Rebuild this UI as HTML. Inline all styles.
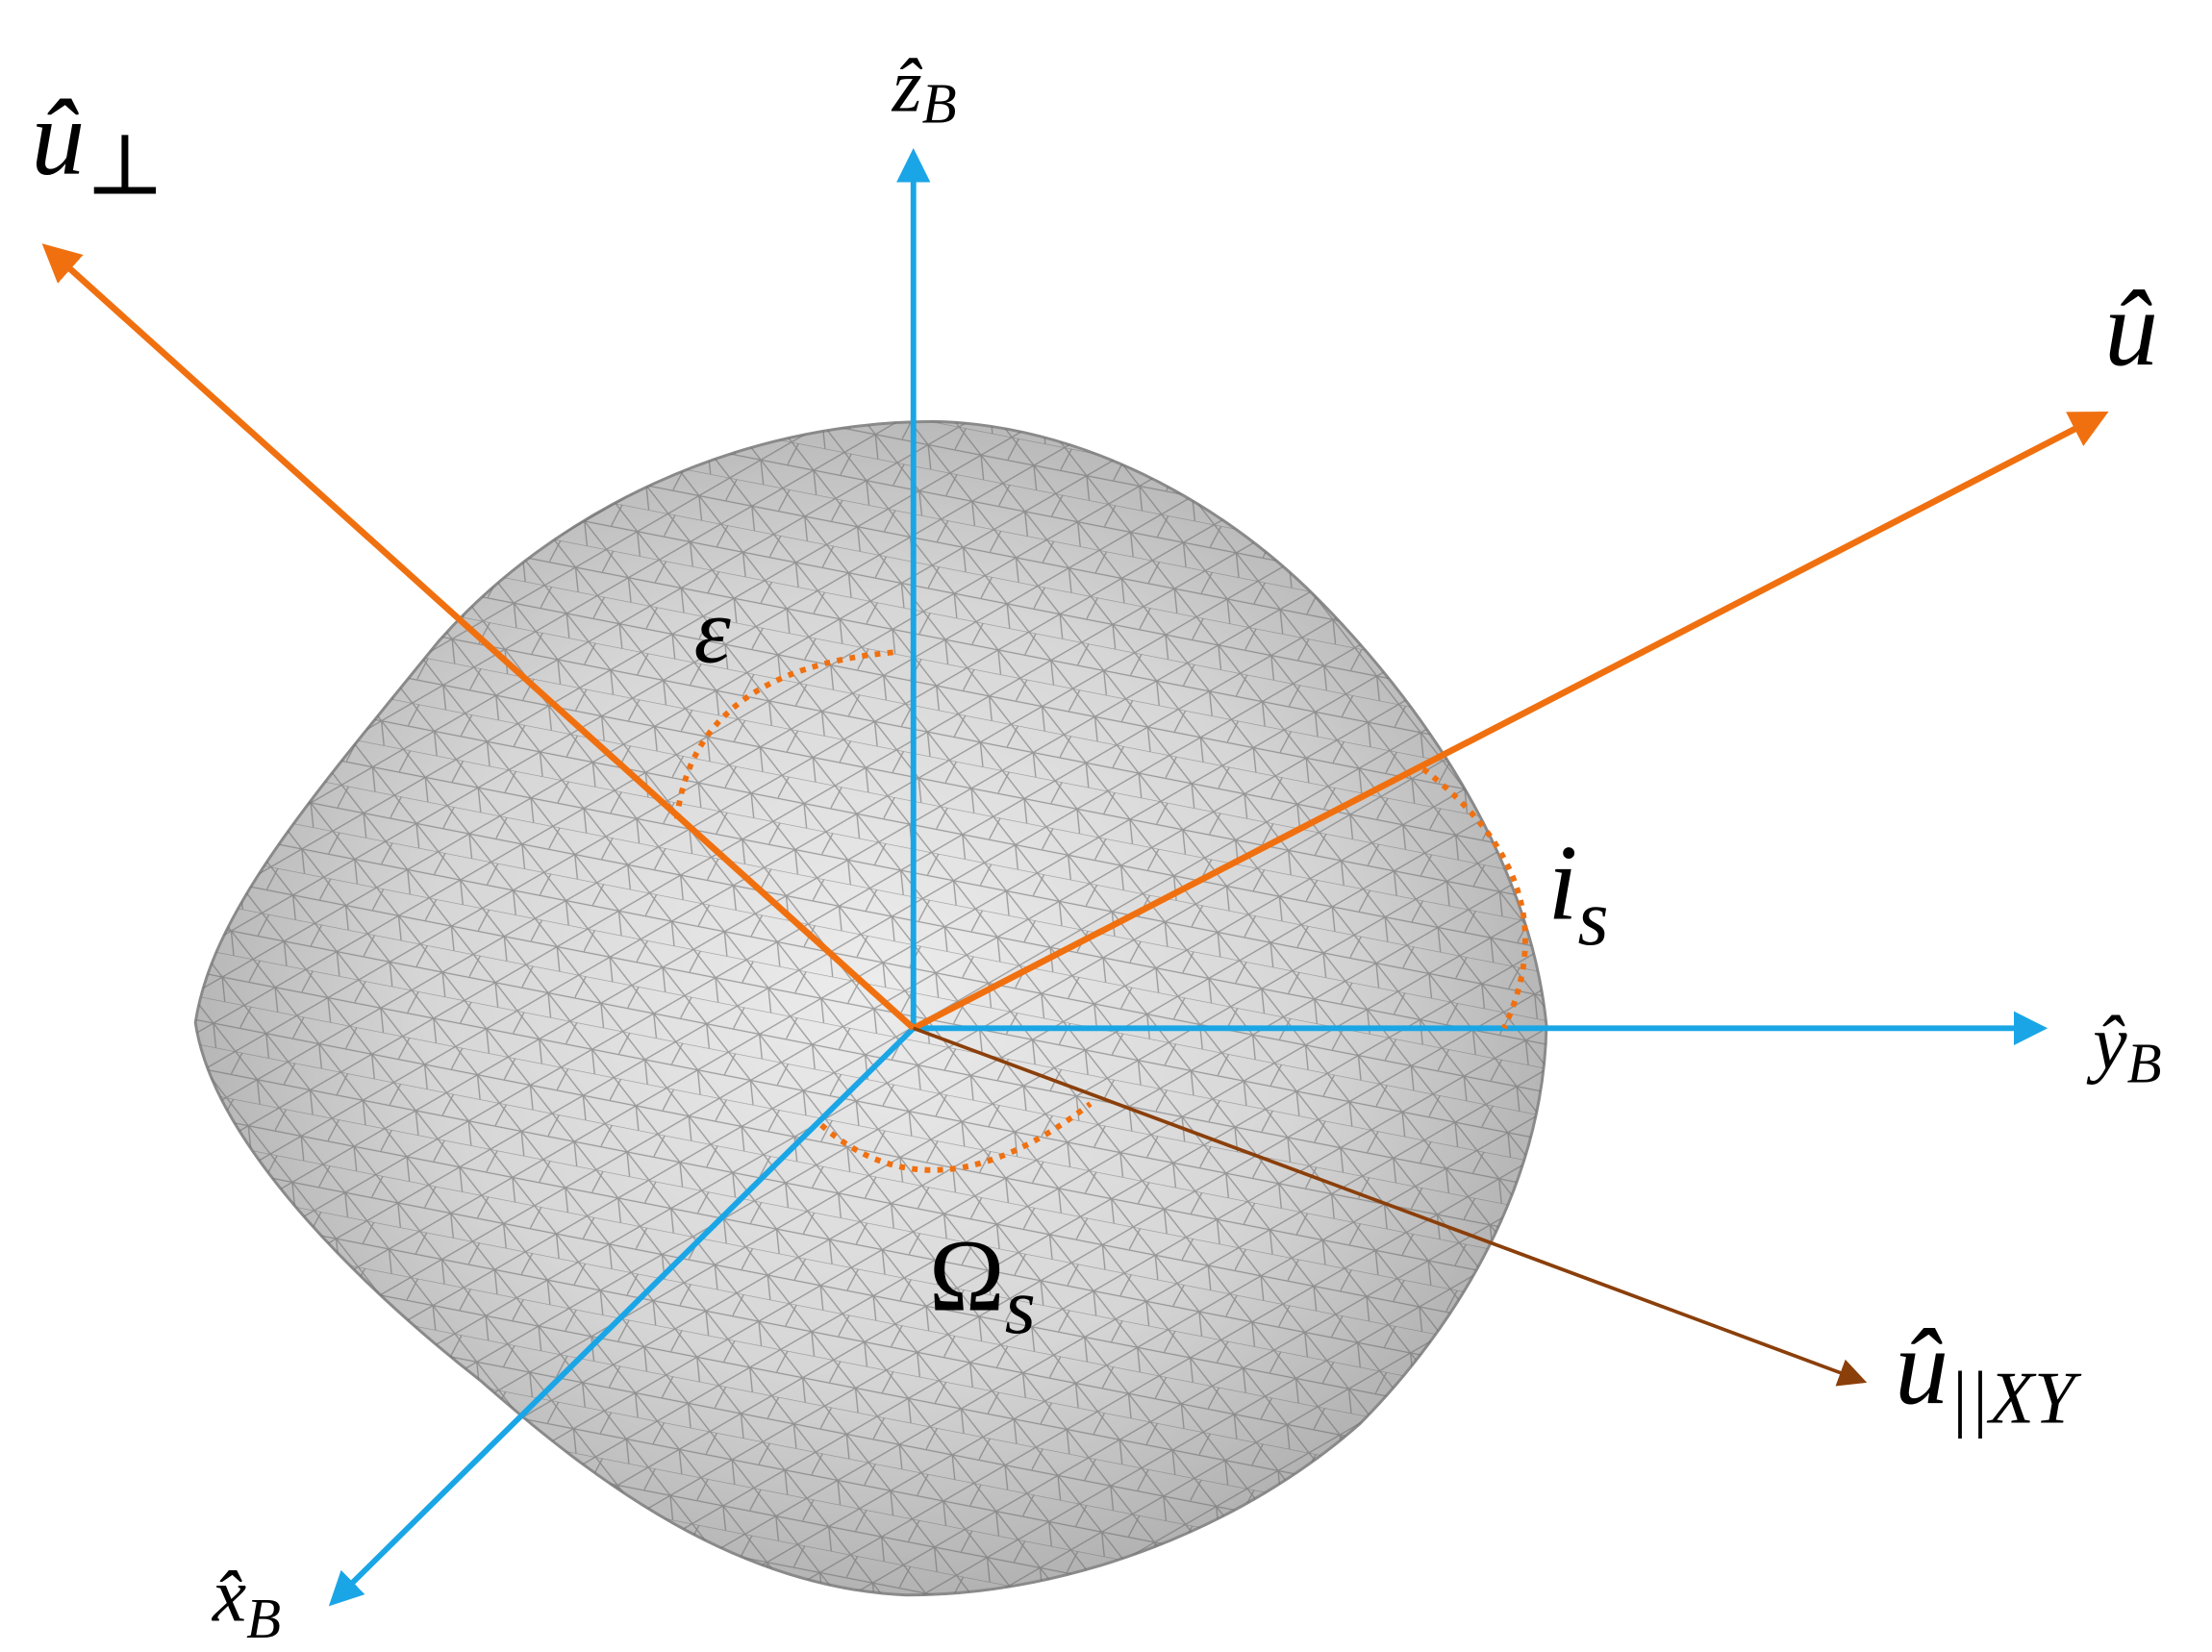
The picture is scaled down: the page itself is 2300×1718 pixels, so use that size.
<!DOCTYPE html>
<html><head><meta charset="utf-8"><style>
html,body{margin:0;padding:0;background:#fff;}
svg{display:block;}
text{font-family:"Liberation Serif","DejaVu Serif",serif;font-style:italic;fill:#000;}
</style></head><body>
<svg width="2300" height="1718" viewBox="0 0 1562 1160" preserveAspectRatio="none" xmlns="http://www.w3.org/2000/svg">
<defs>
<radialGradient id="g" cx="0.5" cy="0.48" r="0.6">
<stop offset="0" stop-color="#ececec"/><stop offset="0.55" stop-color="#d6d6d6"/><stop offset="1" stop-color="#a4a4a4"/>
</radialGradient>
<pattern id="mesh" width="38" height="33" patternUnits="userSpaceOnUse" patternTransform="rotate(11)">
<path d="M0 0L38 0M0 16.5L38 16.5M0 0L19 16.5L38 0M0 33L19 16.5L38 33M19 16.5L24 33M0 16.5L5 0" stroke="#6a6a6a" stroke-width="0.9" fill="none" opacity="0.6"/>
</pattern>
<marker id="ac" markerWidth="6" markerHeight="6" refX="5" refY="3" orient="auto" markerUnits="strokeWidth"><path d="M0,0L6,3L0,6z" fill="#1aa6e6"/></marker>
<marker id="ao" markerWidth="6" markerHeight="6" refX="5" refY="3" orient="auto" markerUnits="strokeWidth"><path d="M0,0L6,3L0,6z" fill="#f07010"/></marker>
<marker id="ab" markerWidth="8" markerHeight="8" refX="7" refY="4" orient="auto" markerUnits="strokeWidth"><path d="M0,0L8,4L0,8z" fill="#8b3f0a"/></marker>
</defs>
<g>
<path d="M138 718 C150 640 220 560 310 450 C390 360 520 296 660 296 C760 298 860 350 930 420 C1000 490 1080 600 1092 720 C1090 830 1030 930 960 1000 C880 1070 760 1120 640 1120 C520 1115 420 1040 340 970 C250 900 150 800 138 718 Z" fill="url(#g)" stroke="#8a8a8a" stroke-width="2"/>
<path d="M138 718 C150 640 220 560 310 450 C390 360 520 296 660 296 C760 298 860 350 930 420 C1000 490 1080 600 1092 720 C1090 830 1030 930 960 1000 C880 1070 760 1120 640 1120 C520 1115 420 1040 340 970 C250 900 150 800 138 718 Z" fill="url(#mesh)"/>
</g>
<g stroke="#1aa6e6" stroke-width="4" fill="none">
<line x1="645" y1="722" x2="645" y2="108" marker-end="url(#ac)"/>
<line x1="645" y1="722" x2="1442" y2="722" marker-end="url(#ac)"/>
<line x1="645" y1="722" x2="235" y2="1125" marker-end="url(#ac)"/>
</g>
<g stroke="#f07010" stroke-width="4.5" fill="none">
<line x1="645" y1="722" x2="33" y2="174" marker-end="url(#ao)"/>
<line x1="645" y1="722" x2="1485" y2="291" marker-end="url(#ao)"/>
</g>
<line x1="645" y1="722" x2="1316" y2="970" stroke="#8b3f0a" stroke-width="2.5" marker-end="url(#ab)"/>
<g stroke="#f07010" stroke-width="4" stroke-dasharray="4 5" fill="none">
<path d="M478 575 Q490 470 632 458"/>
<path d="M1005 540 Q1110 620 1062 722"/>
<path d="M580 790 Q660 860 770 775"/>
</g>
<g>
<text x="22" y="122" font-size="76">û<tspan font-size="60" dy="14">⊥</tspan></text>
<text x="630" y="78" font-size="54">ẑ<tspan font-size="40" dy="8">B</tspan></text>
<text x="1486" y="256" font-size="76">û</text>
<text x="1478" y="750" font-size="54">ŷ<tspan font-size="40" dy="10">B</tspan></text>
<text x="150" y="1138" font-size="54">x̂<tspan font-size="40" dy="12">B</tspan></text>
<text x="1338" y="985" font-size="76">û<tspan font-size="52" dy="14">||XY</tspan></text>
<text x="490" y="465" font-size="66">ε</text>
<text x="1093" y="645" font-size="76">i<tspan font-size="56" dy="18">s</tspan></text>
<text x="656" y="920" font-size="72" style="font-style:normal">Ω<tspan font-size="56" dy="16" style="font-style:italic">s</tspan></text>
</g>
</svg>
</body></html>
